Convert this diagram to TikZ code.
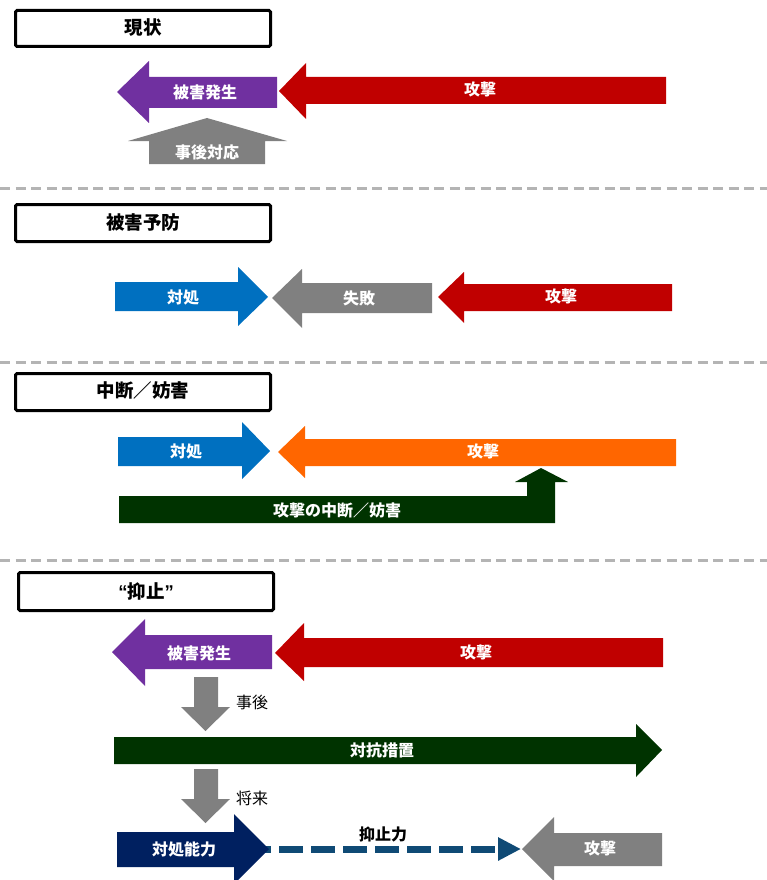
\documentclass[tikz,border=0pt]{standalone}
\usepackage{fontspec}
\setmainfont{Noto Sans CJK JP}
\newfontfamily\latinquote{Liberation Sans}
\usetikzlibrary{arrows.meta}

\definecolor{cPurple}{HTML}{7030A0}
\definecolor{cRed}{HTML}{C00000}
\definecolor{cGray}{HTML}{808080}
\definecolor{cBlue}{HTML}{0070C0}
\definecolor{cOrange}{HTML}{FF6600}
\definecolor{cGreen}{HTML}{003300}
\definecolor{cNavy}{HTML}{002060}
\definecolor{cDeter}{HTML}{0F4A75}
\definecolor{cSep}{HTML}{B4B4B4}

% left-pointing block arrow:
% #1 colour, #2 tip x, #3 axis y, #4 head base x, #5/#6 head top/bottom,
% #7/#8 shaft top/bottom, #9 tail x
\newcommand\blockL[9]{%
  \fill[#1] (#2,#3) -- (#4,#5) -- (#4,#7) -- (#9,#7) -- (#9,#8) -- (#4,#8) -- (#4,#6) -- cycle;}
% right-pointing block arrow: #2 tail x, #9 tip x, the rest as above
\newcommand\blockR[9]{%
  \fill[#1] (#9,#3) -- (#4,#5) -- (#4,#7) -- (#2,#7) -- (#2,#8) -- (#4,#8) -- (#4,#6) -- cycle;}
% downward block arrow: #1 shaft left, #2 shaft right, #3 shaft top,
% #4 head base y, #5 head left, #6 head right, #7 tip y
\newcommand\blockD[7]{%
  \fill[cGray] (#1,#3) -- (#2,#3) -- (#2,#4) -- (#6,#4) -- ({(#5+#6)/2},#7) -- (#5,#4) -- (#1,#4) -- cycle;}

\tikzset{
  lbl/.style={text=white, font=\fontsize{16}{18}\selectfont\bfseries, inner sep=0pt},
  note/.style={text=black, font=\fontsize{16}{18}\selectfont, inner sep=0pt, anchor=west},
  tag/.style={text=black, font=\fontsize{16}{18}\selectfont\bfseries, inner sep=0pt},
  titlebox/.style={draw=black, line width=3pt, fill=white, rounded corners=1.5pt},
  titletext/.style={text=black, font=\fontsize{18.5}{20}\selectfont\bfseries, inner sep=0pt},
  sep/.style={draw=cSep, line width=3pt, dash pattern=on 10pt off 5.5pt},
  deter/.style={draw=cDeter, line width=7pt,
    dash pattern=on 24pt off 8pt,
    -{Triangle[length=23pt,width=22pt]}}
}

\begin{document}
\begin{tikzpicture}[x=1pt,y=-1pt]
\useasboundingbox (0,0) rectangle (767,880);
\clip (0,0) rectangle (767,880);

% ---------- 現状 ----------
\draw[titlebox] (15.5,10.5) rectangle (270.5,46.5);
\node[titletext] (t1) at (143,28) {現状};
\blockL{cPurple}{117}{92}{149}{61}{123}{77}{108}{277}
\blockL{cRed}{279}{91}{306}{63}{119}{77}{104}{666}
\fill[cGray] (149,164) -- (149,141) -- (128,141) -- (207,118) -- (287,141) -- (265,141) -- (265,164) -- cycle;
\node[lbl] (a1) at (205,92) {被害発生};
\node[lbl] (b1) at (480,89) {攻撃};
\node[lbl] (c1) at (207,152) {事後対応};

\draw[sep] (0,188) -- (767,188);

% ---------- 被害予防 ----------
\draw[titlebox] (15.5,204.5) rectangle (270.5,241.5);
\node[titletext] (t2) at (143,222) {被害予防};
\blockR{cBlue}{115}{297}{238}{267}{326}{282}{311}{268}
\blockL{cGray}{272}{298}{302}{269}{328}{283}{313}{432}
\blockL{cRed}{438}{297}{464}{272}{323}{284}{311}{672}
\node[lbl] (a2) at (183,297) {対処};
\node[lbl] (b2) at (359,298) {失敗};
\node[lbl] (c2) at (561,296) {攻撃};

\draw[sep] (0,362) -- (767,362);

% ---------- 中断／妨害 ----------
\draw[titlebox] (15.5,373.5) rectangle (270.5,410.5);
\node[titletext] (t3) at (143,391) {中断／妨害};
\blockR{cBlue}{118}{451}{242}{422}{479}{437}{466}{270}
\blockL{cOrange}{278}{452}{305}{426}{478}{439}{466}{676}
\fill[cGreen] (119,496) -- (527,496) -- (527,482) -- (515,482) -- (541,468) -- (568,482) -- (555,482) -- (555,523) -- (119,523) -- cycle;
\node[lbl] (a3) at (186,451) {対処};
\node[lbl] (b3) at (483,451) {攻撃};
\node[lbl] (c3) at (337,510) {攻撃の中断／妨害};

\draw[sep] (0,560) -- (767,560);

% ---------- 抑止 ----------
\draw[titlebox] (18.5,572.5) rectangle (273.5,610.5);
\node[titletext] (t4) at (146,591) {{\latinquote “}抑止{\latinquote ”}};
\blockL{cPurple}{112}{652}{145}{619}{686}{635}{669}{272}
\blockL{cRed}{275}{653}{304}{623}{681}{638}{667}{663}
\blockD{194}{218}{677}{707}{181}{230}{731}
\blockR{cGreen}{114}{750}{636}{724}{777}{737}{764}{662}
\blockD{194}{218}{769}{799}{181}{230}{823}
% deterrence link runs from under the capability arrow's head to the attack arrow's tip
\coordinate (capTip) at (269,849);
\coordinate (atkTip) at (521,849);
\draw[deter] ([xshift=-22pt]capTip) -- (atkTip);
\blockR{cNavy}{117}{849}{234}{814}{884}{832}{867}{269}
\blockL{cGray}{522}{849}{554}{817}{881}{833}{866}{662}
\node[lbl] (a4) at (199,653) {被害発生};
\node[lbl] (b4) at (476,652) {攻撃};
\node[note] (n1) at (236,702) {事後};
\node[lbl] (c4) at (382,750) {対抗措置};
\node[note] (n2) at (236,798) {将来};
\node[lbl] (d4) at (184,849) {対処能力};
\node[lbl] (e4) at (600,848) {攻撃};
\node[tag] (f4) at (383,834) {抑止力};
\end{tikzpicture}
\end{document}
